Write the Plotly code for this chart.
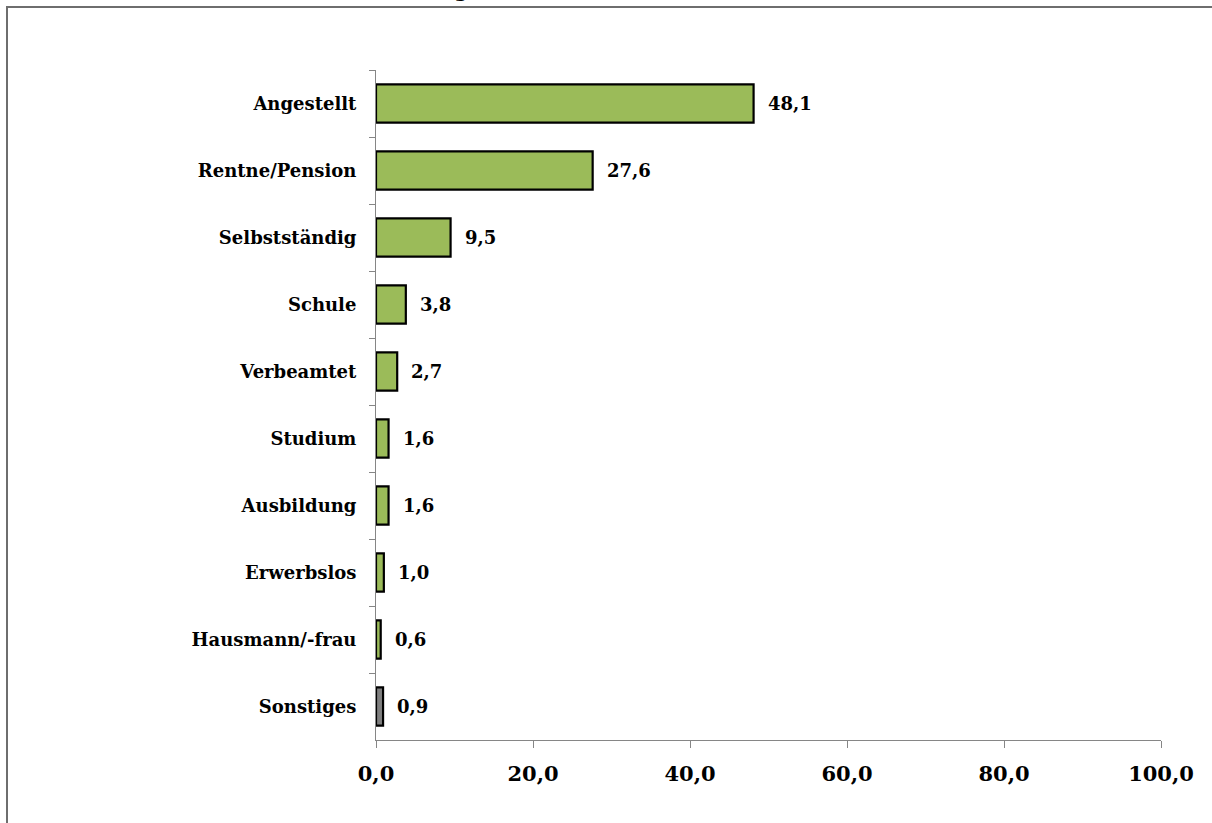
import plotly.graph_objects as go

categories = ["Angestellt", "Rentne/Pension", "Selbstständig", "Schule", "Verbeamtet",
              "Studium", "Ausbildung", "Erwerbslos", "Hausmann/-frau", "Sonstiges"]
values = [48.1, 27.6, 9.5, 3.8, 2.7, 1.6, 1.6, 1.0, 0.6, 0.9]
bar_colors = ["#9BBB59"] * 9 + ["#7F7F7F"]
x_ticks = [0, 20, 40, 60, 80, 100]
title_text = "Angaben zum Erwerbsstatus (in %)"

FONT = "DejaVu Serif"
W, H = 1212, 823
L, R, T, B = 376, 51, 70, 83
pw, ph = W - L - R, H - T - B

def px_x(p):
    return (p - L) / pw

def px_y(p):
    return (H - B - p) / ph

fig = go.Figure()
fig.add_trace(go.Bar(
    y=categories, x=values, orientation="h",
    marker=dict(color=bar_colors, line=dict(color="black", width=2.2)),
    width=0.57, hoverinfo="skip",
))

for c, v in zip(categories, values):
    fig.add_annotation(
        x=v, y=c, xref="x", yref="y", text=f"{v:.1f}".replace(".", ","),
        showarrow=False, xanchor="left", yanchor="middle", xshift=12,
        font=dict(family=FONT, size=18, color="black", weight="bold"),
    )

# chart frame
fig.add_shape(type="rect", xref="paper", yref="paper",
              x0=px_x(7), x1=px_x(1240), y0=px_y(850), y1=px_y(7),
              line=dict(color="#6E6E6E", width=2), fillcolor="rgba(0,0,0,0)", layer="below")

# title (mostly outside the visible page)
fig.add_annotation(
    x=px_x(612), y=px_y(3), xref="paper", yref="paper", text=title_text,
    showarrow=False, xanchor="center", yanchor="bottom",
    font=dict(family=FONT, size=19, color="black", weight="bold"),
)

fig.update_layout(
    width=W, height=H,
    margin=dict(l=L, r=R, t=T, b=B, pad=0),
    paper_bgcolor="white", plot_bgcolor="white",
    separators=",.",
    showlegend=False,
)
fig.update_xaxes(
    range=[0, 100], tickvals=x_ticks, tickformat=".1f",
    showgrid=False, zeroline=False,
    showline=True, linecolor="#868686", linewidth=1,
    ticks="outside", ticklen=7, tickcolor="#868686", tickwidth=1,
    tickfont=dict(family=FONT, size=21, color="black", weight="bold"),
    ticklabelstandoff=8,
)
fig.update_yaxes(
    categoryorder="array", categoryarray=categories, autorange="reversed",
    range=[9.5, -0.5],
    showgrid=False, zeroline=False,
    showline=True, linecolor="#868686", linewidth=1,
    ticks="outside", ticklen=6, tickcolor="#868686", tickwidth=1,
    tickson="boundaries",
    tickfont=dict(family=FONT, size=18, color="black", weight="bold"),
    ticklabelstandoff=15,
)

fig.write_html("out.html", config={"displayModeBar": False},
               post_script="document.body.style.margin='0';document.body.style.overflow='hidden';")
